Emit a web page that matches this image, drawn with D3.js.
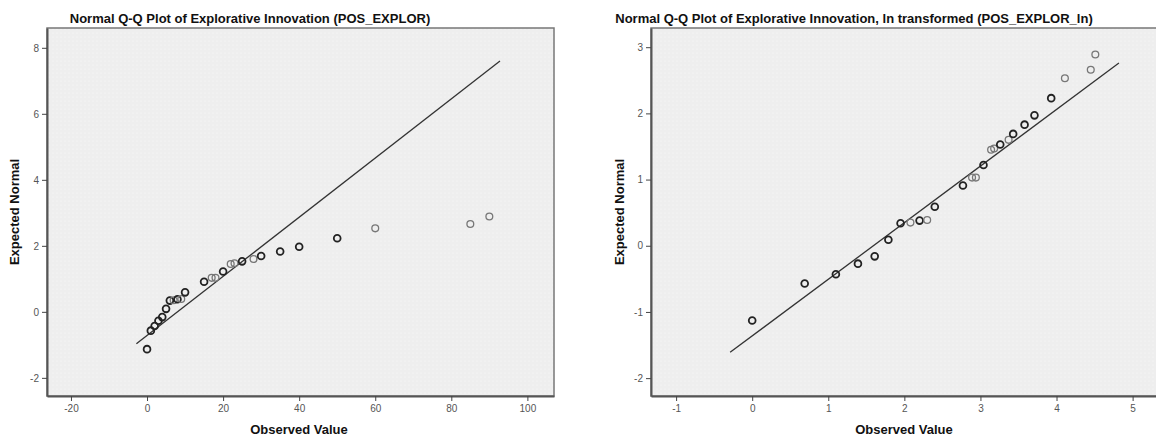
<!DOCTYPE html>
<html>
<head>
<meta charset="utf-8">
<script src="https://cdn.jsdelivr.net/npm/d3@7"></script>
<style>
  body { margin: 0; background: #fff; }
  svg { display: block; font-family: "Liberation Sans", Arial, sans-serif; }
  .tick text { fill: #555; font-size: 10px; }
  .tick line { stroke: #444; }
  .domain { stroke: #555; stroke-width: 2; }
</style>
</head>
<body>
<svg id="chart" width="1156" height="440"></svg>
<script>
// data
const observed = [0, 1, 2, 3, 4, 5, 6, 7, 8, 9, 10, 15, 17, 18, 20, 22, 23, 25, 28, 30, 35, 40, 50, 60, 85, 90];
const observedLn = [0, 0.69, 1.10, 1.39, 1.61, 1.79, 1.95, 2.08, 2.20, 2.30, 2.40, 2.77, 2.89, 2.94, 3.04, 3.14, 3.18, 3.26, 3.37, 3.43, 3.58, 3.71, 3.93, 4.11, 4.45, 4.51];
const expectedNormal = [-1.13, -0.57, -0.43, -0.27, -0.16, 0.09, 0.34, 0.35, 0.38, 0.39, 0.59, 0.91, 1.03, 1.03, 1.22, 1.45, 1.47, 1.53, 1.60, 1.69, 1.83, 1.97, 2.23, 2.53, 2.66, 2.89];
// overlapping cases look darker
const caseCount = [2, 2, 2, 2, 2, 2, 2, 1, 2, 1, 2, 2, 1, 1, 2, 1, 1, 2, 1, 2, 2, 2, 2, 1, 1, 1];

// reference lines (end points)
const lineRaw = { x: [-2.8, 92.8], y: [-0.97, 7.6] };
const lineLn = { x: [-0.29, 4.82], y: [-1.61, 2.76] };

const ticksRawX = [-20, 0, 20, 40, 60, 80, 100];
const ticksRawY = [-2, 0, 2, 4, 6, 8];
const ticksLnX = [-1, 0, 1, 2, 3, 4, 5];
const ticksLnY = [-2, -1, 0, 1, 2, 3];

const titles = [
  "Normal Q-Q Plot of Explorative Innovation (POS_EXPLOR)",
  "Normal Q-Q Plot of Explorative Innovation, ln transformed (POS_EXPLOR_ln)"
];

const svg = d3.select("#chart");
const fmt = d => String(d);   // plain hyphen minus, no decimals

// dotted background like spss
const pat = svg.append("defs").append("pattern")
  .attr("id", "dots")
  .attr("width", 4).attr("height", 4)
  .attr("patternUnits", "userSpaceOnUse");
pat.append("rect").attr("width", 4).attr("height", 4).attr("fill", "#eeeeee");
pat.append("circle").attr("cx", 1).attr("cy", 1).attr("r", 0.6).attr("fill", "#fbfbfb");

function qqPanel(opts) {
  const x = d3.scaleLinear().domain(opts.xDomain).range([opts.left, opts.right]);
  const y = d3.scaleLinear().domain(opts.yDomain).range([396, 28]);
  const g = svg.append("g");

  g.append("rect")
    .attr("x", opts.left).attr("y", 28)
    .attr("width", opts.right - opts.left).attr("height", 396 - 28)
    .attr("fill", "url(#dots)")
    .attr("stroke", "#777")
    .attr("stroke-width", 1.5);

  g.append("g")
    .attr("transform", "translate(0,396)")
    .call(d3.axisBottom(x).tickValues(opts.xTicks).tickFormat(fmt).tickSize(5).tickSizeOuter(0).tickPadding(4));

  g.append("g")
    .attr("transform", "translate(" + opts.left + ",0)")
    .call(d3.axisLeft(y).tickValues(opts.yTicks).tickFormat(fmt).tickSize(5).tickSizeOuter(0).tickPadding(3));

  g.append("line")
    .attr("x1", x(opts.line.x[0])).attr("y1", y(opts.line.y[0]))
    .attr("x2", x(opts.line.x[1])).attr("y2", y(opts.line.y[1]))
    .attr("stroke", "#333")
    .attr("stroke-width", 1.3);

  g.selectAll("circle.pt")
    .data(opts.xs)
    .enter()
    .append("circle")
    .attr("class", "pt")
    .attr("cx", d => x(d))
    .attr("cy", (d, i) => y(expectedNormal[i]))
    .attr("r", 3.4)
    .attr("fill", "none")
    .attr("stroke", (d, i) => caseCount[i] > 1 ? "#222" : "#777")
    .attr("stroke-width", (d, i) => caseCount[i] > 1 ? 1.8 : 1.3);

  g.append("text")
    .attr("x", opts.titleX).attr("y", 23)
    .attr("text-anchor", "middle")
    .attr("font-size", 13).attr("font-weight", "bold")
    .attr("fill", "#111")
    .text(opts.title);

  g.append("text")
    .attr("x", opts.xLabelX).attr("y", 434)
    .attr("text-anchor", "middle")
    .attr("font-size", 13).attr("font-weight", "bold")
    .attr("fill", "#111")
    .text("Observed Value");

  g.append("text")
    .attr("transform", "translate(" + opts.yLabelX + ",212) rotate(-90)")
    .attr("text-anchor", "middle")
    .attr("font-size", 13).attr("font-weight", "bold")
    .attr("fill", "#111")
    .text("Expected Normal");
}

qqPanel({
  xs: observed, line: lineRaw,
  xDomain: [-26.3, 107], yDomain: [-2.55, 8.6],
  left: 47, right: 554,
  xTicks: ticksRawX, yTicks: ticksRawY,
  title: titles[0], titleX: 250, xLabelX: 299, yLabelX: 19
});

qqPanel({
  xs: observedLn, line: lineLn,
  xDomain: [-1.33, 5.36], yDomain: [-2.27, 3.29],
  left: 651, right: 1160,
  xTicks: ticksLnX, yTicks: ticksLnY,
  title: titles[1], titleX: 854, xLabelX: 904, yLabelX: 624
});
</script>
</body>
</html>
